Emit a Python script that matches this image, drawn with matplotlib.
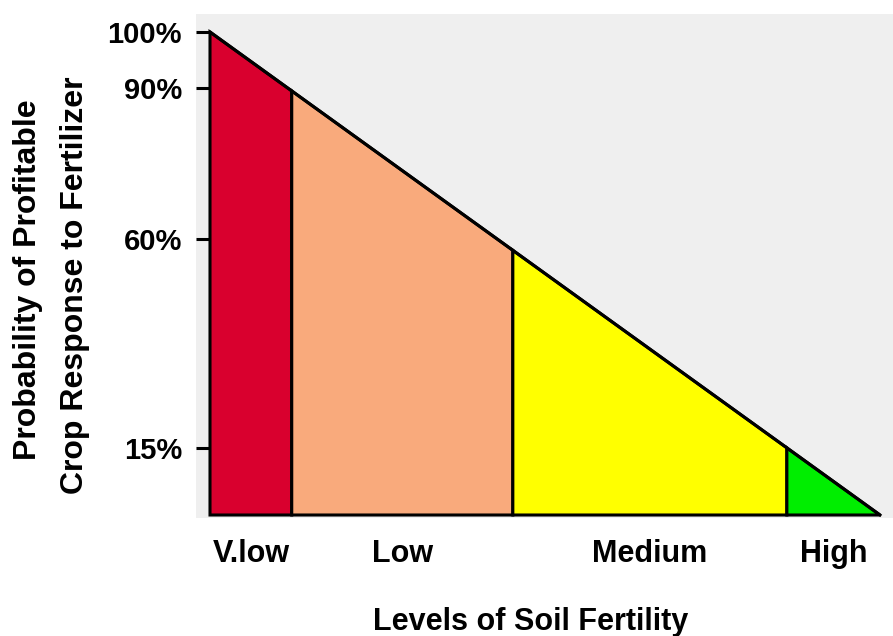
import matplotlib
matplotlib.use("Agg")
import matplotlib.pyplot as plt

# ---- data ----
levels = ["V.low", "Low", "Medium", "High"]
# fertility-scale boundaries between the levels (0..100)
boundaries = [0, 12.2, 45.2, 86.1, 100]
# probability line height at each boundary
prob_at_boundary = [100, 87.8, 54.8, 13.9, 0]
colors = ["#d9002e", "#f9aa7c", "#ffff00", "#00ee00"]
ytick_pos = [100, 88.4, 57.1, 13.9]
ytick_labels = ["100%", "90%", "60%", "15%"]

plt.rcParams["font.family"] = ["Liberation Sans", "DejaVu Sans"]
plt.rcParams["font.weight"] = "bold"

fig = plt.figure(figsize=(8.93, 6.36), dpi=100)
fig.patch.set_facecolor("white")
ax = fig.add_axes([196 / 893, (636 - 518) / 636, 697 / 893, 504 / 636])
ax.set_facecolor("#efefef")

for i, lev in enumerate(levels):
    x0, x1 = boundaries[i], boundaries[i + 1]
    y0, y1 = prob_at_boundary[i], prob_at_boundary[i + 1]
    ax.fill([x0, x0, x1, x1], [0, y0, y1, 0], facecolor=colors[i],
            edgecolor="black", linewidth=2.2, joinstyle="miter", zorder=2)

ax.plot(boundaries, prob_at_boundary, color="black", linewidth=2.2, zorder=3)

ax.set_xlim((196 - 210) / 6.7, (893 - 210) / 6.7)
ax.set_ylim(-3 / 4.83, 100 + 18 / 4.83)

for s in ax.spines.values():
    s.set_visible(False)

centers = [(boundaries[i] + boundaries[i + 1]) / 2 for i in range(len(levels))]
ax.set_xticks(centers)
ax.set_xticklabels(levels, fontsize=22, fontweight="bold")
ax.tick_params(axis="x", length=0, pad=15)

ax.set_yticks(ytick_pos)
ax.set_yticklabels(ytick_labels, fontsize=21, fontweight="bold")
ax.tick_params(axis="y", direction="in", length=10.5, width=2.2, pad=10, color="black")

fig.text(531 / 893, 1 - 622 / 636, "Levels of Soil Fertility", ha="center", va="center",
         fontsize=22, fontweight="bold")
fig.text(28 / 893, 1 - 280 / 636, "Probability of Profitable", ha="center", va="center",
         rotation=90, fontsize=23, fontweight="bold")
fig.text(75 / 893, 1 - 285 / 636, "Crop Response to Fertilizer", ha="center", va="center",
         rotation=90, fontsize=23, fontweight="bold")

fig.savefig("out.png", dpi=100)
